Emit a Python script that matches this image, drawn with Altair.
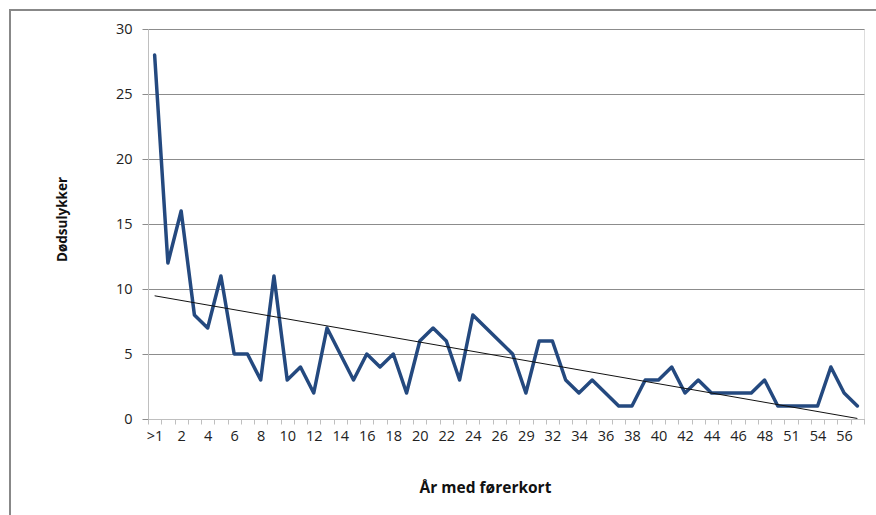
import json
import altair as alt
import pandas as pd

# Years with a driving licence (category labels along the x axis)
years = [">1", "1", "2", "3", "4", "5", "6", "7", "8", "9", "10", "11", "12",
         "13", "14", "15", "16", "17", "18", "19", "20", "21", "22", "23",
         "24", "25", "26", "28", "29", "30", "32", "33", "34", "35", "36",
         "37", "38", "39", "40", "41", "42", "43", "44", "45", "46", "47",
         "48", "50", "51", "53", "54", "55", "56", "57"]

# Fatal accidents per category
fatal = [28, 12, 16, 8, 7, 11, 5, 5, 3, 11, 3, 4, 2, 7, 5, 3, 5, 4, 5, 2,
         6, 7, 6, 3, 8, 7, 6, 5, 2, 6, 6, 3, 2, 3, 2, 1, 1, 3, 3, 4,
         2, 3, 2, 2, 2, 2, 3, 1, 1, 1, 1, 4, 2, 1]

y_ticks = [0, 5, 10, 15, 20, 25, 30]

df = pd.DataFrame({"i": list(range(len(years))), "year": years, "v": fatal})

n = len(years)
# tick marks sit on category boundaries, labels on every second category centre
x_values = [k / 2 - 0.5 for k in range(2 * n + 1)]
label_expr = (
    f"(datum.value % 2 == 0) ? {json.dumps(years)}[datum.value] : ''"
)

FONT = "Open Sans"

x_enc = alt.X(
    "i:Q",
    scale=alt.Scale(domain=[-0.5, n - 0.5], nice=False, zero=False),
    axis=alt.Axis(
        title="År med førerkort",
        values=x_values,
        tickCount=len(x_values),
        labelExpr=label_expr,
        labelOverlap=False,
        labelFont=FONT,
        labelFontSize=14.5,
        labelColor="#222222",
        labelPadding=5,
        labelBound=False,
        labelFlush=False,
        grid=False,
        domainColor="#bfbfbf",
        domainWidth=1,
        tickColor="#bfbfbf",
        tickSize=5,
        tickOpacity={"condition": {"test": "datum.value % 1 == 0", "value": 0}, "value": 1},
        titleFont=FONT,
        titleFontSize=15.5,
        titleFontWeight="bold",
        titleColor="#111111",
        titleX=337,
        titleY=68,
        titleBaseline="middle",
    ),
)

y_enc = alt.Y(
    "v:Q",
    scale=alt.Scale(domain=[0, 30], nice=False),
    axis=alt.Axis(
        title="Dødsulykker",
        values=y_ticks,
        labelFont=FONT,
        labelFontSize=14.5,
        labelColor="#222222",
        labelPadding=10,
        gridColor="#8c8c8c",
        gridWidth=1,
        domainColor="#bfbfbf",
        domainWidth=1,
        tickColor="#8c8c8c",
        tickSize=6,
        titleFont=FONT,
        titleFontSize=13.5,
        titleFontWeight="bold",
        titleColor="#111111",
        titleX=-86,
        titleY=190,
        titleAngle=-90,
        titleBaseline="middle",
    ),
)

series = alt.Chart(df).mark_line(
    color="#24497f", strokeWidth=3.5, strokeJoin="round", strokeCap="round"
).encode(x=x_enc, y=y_enc)

trend = alt.Chart(df).transform_regression("i", "v").mark_line(
    color="#111111", strokeWidth=1
).encode(x="i:Q", y="v:Q")

# outer chart-area frame
frame = alt.Chart(df).mark_rect(
    fill=None, stroke="#888888", strokeWidth=2
).encode(
    x=alt.value(-138), x2=alt.value(800),
    y=alt.value(-19), y2=alt.value(560),
)

chart = alt.layer(frame, series, trend).properties(
    width=716,
    height=390,
    padding={"left": 148, "top": 29, "right": 12, "bottom": 96},
    autosize=alt.AutoSizeParams(type="none"),
).configure_view(stroke=None).configure(background="white")

chart.save("out.html", embed_options={"renderer": "svg", "actions": False})
